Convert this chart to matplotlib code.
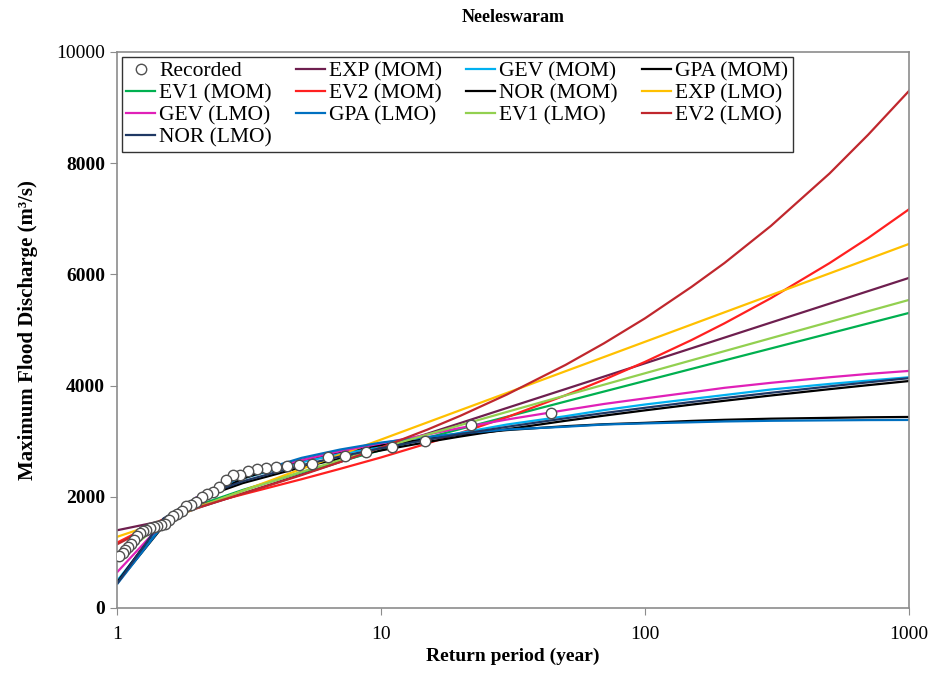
import numpy as np
import matplotlib
matplotlib.use('Agg')
import matplotlib.pyplot as plt

plt.rcParams['font.family'] = ['Liberation Serif', 'DejaVu Serif']

# recorded annual peaks (plotting position return periods)
rec_T = [44.0, 22.0, 14.67, 11.0, 8.8, 7.33, 6.29, 5.5, 4.89, 4.4, 4.0, 3.67, 3.38,
         3.14, 2.93, 2.75, 2.59, 2.44, 2.32, 2.2, 2.1, 2.0, 1.91, 1.83, 1.76, 1.69,
         1.63, 1.57, 1.52, 1.47, 1.42, 1.38, 1.33, 1.29, 1.26, 1.22, 1.19, 1.16,
         1.13, 1.1, 1.07, 1.05, 1.02]
rec_Q = [3502, 3291, 3009, 2901, 2811, 2734, 2710, 2590, 2580, 2554, 2530, 2512, 2494,
         2464, 2392, 2385, 2302, 2171, 2092, 2050, 2000, 1900, 1860, 1830, 1740, 1690,
         1660, 1580, 1515, 1495, 1480, 1465, 1440, 1410, 1380, 1340, 1290, 1230,
         1160, 1100, 1040, 990, 930]

# return periods at which the fitted curves are evaluated
T = [1.005, 1.5, 2, 3, 5, 7, 10, 15, 20, 30, 50, 70, 100, 150, 200, 300, 500, 700, 1000]

exp_mom = [1400, 1570, 1791, 2062, 2402, 2627, 2865, 3135, 3327, 3598, 3938, 4163, 4401,
           4671, 4863, 5134, 5474, 5699, 5937]
ev1_mom = [950, 1560, 1840, 2124, 2441, 2637, 2839, 3063, 3220, 3440, 3714, 3894, 4084,
           4300, 4453, 4668, 4939, 5118, 5307]
ev2_mom = [1180, 1600, 1827, 2044, 2316, 2503, 2708, 2960, 3149, 3433, 3826, 4107, 4427,
           4819, 5120, 5573, 6203, 6654, 7171]
gev_mom = [500, 1540, 1990, 2330, 2620, 2770, 2900, 3040, 3150, 3300, 3450, 3560, 3660,
           3760, 3830, 3930, 4030, 4090, 4150]
nor_mom = [470, 1600, 1950, 2247, 2531, 2687, 2834, 2986, 3085, 3215, 3367, 3460, 3555,
           3658, 3727, 3822, 3936, 4008, 4082]
gpa_mom = [460, 1480, 1900, 2330, 2660, 2810, 2930, 3040, 3120, 3200, 3270, 3305, 3330,
           3365, 3385, 3405, 3420, 3430, 3436]
exp_lmo = [1283, 1560, 1800, 2109, 2500, 2757, 3029, 3339, 3559, 3868, 4259, 4515, 4788,
           5098, 5318, 5628, 6018, 6275, 6548]
gev_lmo = [653, 1540, 1990, 2380, 2660, 2820, 2960, 3120, 3240, 3390, 3560, 3670, 3770,
           3880, 3960, 4050, 4150, 4210, 4264]
gpa_lmo = [440, 1500, 1950, 2380, 2700, 2850, 2975, 3075, 3140, 3210, 3260, 3300, 3320,
           3340, 3355, 3367, 3375, 3380, 3382]
ev1_lmo = [900, 1537, 1801, 2107, 2449, 2661, 2878, 3121, 3290, 3527, 3823, 4017, 4222,
           4455, 4620, 4853, 5145, 5338, 5541]
ev2_lmo = [1150, 1580, 1797, 2057, 2390, 2625, 2886, 3209, 3458, 3840, 4372, 4762, 5210,
           5775, 6205, 6873, 7815, 8511, 9300]
nor_lmo = [450, 1610, 1980, 2280, 2567, 2724, 2873, 3026, 3127, 3258, 3412, 3506, 3601,
           3705, 3776, 3871, 3986, 4059, 4134]

series = [
    ('EXP (MOM)', exp_mom, '#6E1F4F'),
    ('EV1 (MOM)', ev1_mom, '#00B050'),
    ('EV2 (MOM)', ev2_mom, '#FF2020'),
    ('GEV (MOM)', gev_mom, '#00B0F0'),
    ('NOR (MOM)', nor_mom, '#000000'),
    ('GPA (MOM)', gpa_mom, '#000000'),
    ('EXP (LMO)', exp_lmo, '#FFC000'),
    ('GEV (LMO)', gev_lmo, '#E020B8'),
    ('GPA (LMO)', gpa_lmo, '#0070C0'),
    ('EV1 (LMO)', ev1_lmo, '#92D050'),
    ('EV2 (LMO)', ev2_lmo, '#C0272D'),
    ('NOR (LMO)', nor_lmo, '#1F3864'),
]

fig = plt.figure(figsize=(9.38, 6.73), dpi=100)
ax = fig.add_axes([117/938, 1-608/673, (909-117)/938, (608-52)/673])

handles = {}
for name, vals, col in series:
    h, = ax.plot(T, vals, color=col, lw=1.6, label=name, zorder=2)
    handles[name] = h
h, = ax.plot(rec_T, rec_Q, 'o', ms=7.5, mfc='white', mec='#505050', mew=1.0,
             zorder=5, label='Recorded', linestyle='none')
handles['Recorded'] = h

ax.set_xscale('log')
ax.set_xlim(1, 1000)
ax.set_ylim(0, 10000)
ax.set_xticks([1, 10, 100, 1000])
ax.set_xticklabels(['1', '10', '100', '1000'], fontsize=14)
ax.minorticks_off()
ax.set_yticks([0, 2000, 4000, 6000, 8000, 10000])
ax.set_yticklabels(['0', '2000', '4000', '6000', '8000', '10000'], fontsize=14)
for lab in ax.get_yticklabels()[:-1]:
    lab.set_fontweight('bold')
for s in ax.spines.values():
    s.set_color('#8C8C8C')
    s.set_linewidth(1.2)
ax.tick_params(axis='both', which='major', length=5, color='#8C8C8C', direction='out')
ax.tick_params(axis='x', pad=8)

ax.set_xlabel('Return period (year)', fontsize=14, fontweight='bold', labelpad=3)
ax.set_ylabel('Maximum Flood Discharge (m³/s)', fontsize=15, fontweight='bold', labelpad=13)
fig.text(513/938, 1-18/673, 'Neeleswaram', ha='center', va='center',
         fontsize=13, fontweight='bold')

order = ['Recorded', 'EV1 (MOM)', 'GEV (LMO)', 'NOR (LMO)',
         'EXP (MOM)', 'EV2 (MOM)', 'GPA (LMO)',
         'GEV (MOM)', 'NOR (MOM)', 'EV1 (LMO)',
         'GPA (MOM)', 'EXP (LMO)', 'EV2 (LMO)']
leg = ax.legend([handles[k] for k in order], order, ncol=4, loc='upper left',
                bbox_to_anchor=(0.006, 0.991), fontsize=15.5, frameon=True,
                fancybox=False, edgecolor='black', labelspacing=0.09,
                handlelength=1.35, handletextpad=0.2, columnspacing=1.1,
                borderpad=0.2, borderaxespad=0.0)
leg.get_frame().set_linewidth(1.0)

fig.savefig('out.png', dpi=100)
